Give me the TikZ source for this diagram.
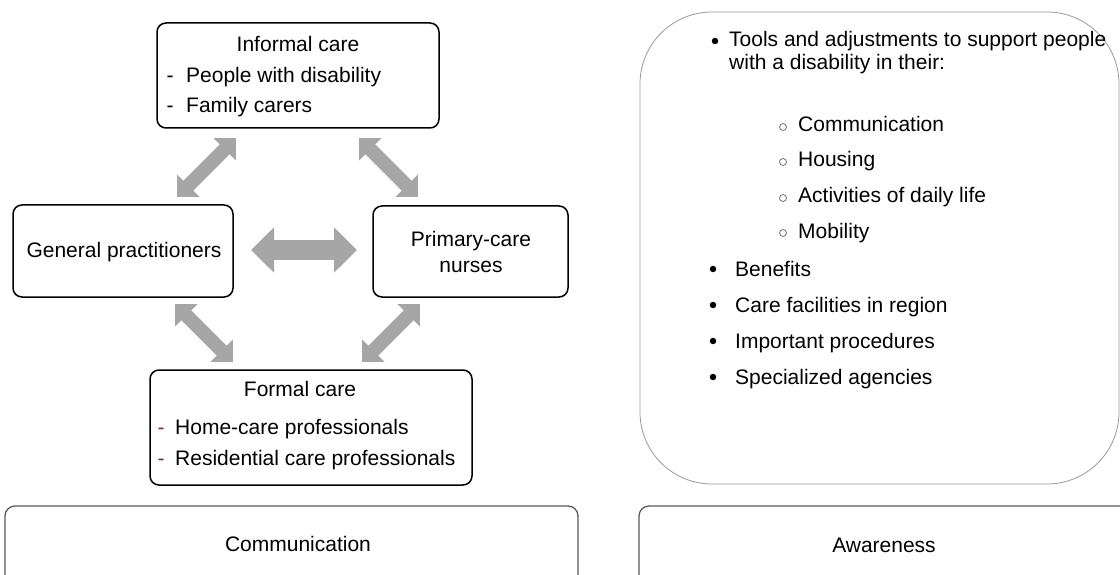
\documentclass[tikz,border=0pt]{standalone}
\usepackage{fontspec}
\setmainfont{Liberation Sans}
\usetikzlibrary{arrows.meta,calc}
\definecolor{arrgray}{HTML}{A6A6A6}
\definecolor{dashred}{HTML}{7A3030}
\begin{document}
\begin{tikzpicture}[x=1pt,y=-1pt,
  every node/.style={font=\fontsize{21}{25}\selectfont},
  carebox/.style={draw=black,line width=1.5pt,rounded corners=9pt},
  basebox/.style={draw=black!65,line width=1.3pt,rounded corners=10pt},
  bigbox/.style={draw=black!40,line width=0.8pt,rounded corners=72pt},
  txt/.style={inner sep=0pt,anchor=base west},
  ctxt/.style={inner sep=0pt,anchor=base},
  darr/.style={draw=arrgray,line width=14pt,{Triangle[width=31pt,length=16pt]}-{Triangle[width=31pt,length=16pt]}},
  harr/.style={draw=arrgray,line width=20pt,{Triangle[width=44pt,length=23pt]}-{Triangle[width=44pt,length=23pt]}},
  dot/.style={circle,fill=black,inner sep=0pt,minimum size=6.5pt},
  hdot/.style={circle,draw=black!55,line width=0.8pt,inner sep=0pt,minimum size=7pt}
]
\useasboundingbox (0,0) rectangle (1120,575);
\clip (0,0) rectangle (1120,575);

% boxes
\draw[carebox] (157,23) rectangle (439,128);
\node[inner sep=0pt] (inf) at (298,75.5) {};
\coordinate (infSW) at (157,128);
\coordinate (infSE) at (439,128);
\draw[carebox] (13,205) rectangle (233,297);
\coordinate (gpNE) at (233,205);
\coordinate (gpSE) at (233,297);
\draw[carebox] (373,206) rectangle (568,297);
\coordinate (nuNW) at (373,206);
\coordinate (nuSW) at (373,297);
\draw[carebox] (150,370) rectangle (472,485);
\coordinate (frNW) at (150,370);
\coordinate (frNE) at (472,370);

\draw[basebox] (5,506) rectangle (578,620);
\draw[basebox] (639,506) rectangle (1135,620);
\draw[bigbox] (640,12) rectangle (1119,484);

% texts in care boxes
\node[ctxt] (infT) at (298,52) {Informal care};
\node[txt] (infD1) at (166.5,83) {-};
\node[txt] (infL1) at (186,83) {People with disability};
\node[txt] (infD2) at (166.5,113) {-};
\node[txt] (infL2) at (186,113) {Family carers};

\node[ctxt] (gpT) at (124,258) {General practitioners};

\node[ctxt] (nuT1) at (471,246) {Primary-care};
\node[ctxt] (nuT2) at (471,272) {nurses};

\node[ctxt] (frT) at (300,396) {Formal care};
\node[txt] (frD1) at (157.5,434) {\textcolor{dashred}{-}};
\node[txt] (frL1) at (175,434) {Home-care professionals};
\node[txt] (frD2) at (157.5,465) {\textcolor{dashred}{-}};
\node[txt] (frL2) at (175,465) {Residential care professionals};

\node[ctxt] (comm) at (298,551) {Communication};
\node[ctxt] (awr) at (884,552) {Awareness};

% arrows between care boxes
\coordinate (a1s) at ($(infSW)+(79,10)$);
\coordinate (a1e) at ($(gpNE)+(-56,-8)$);
\coordinate (a2s) at ($(infSE)+(-80,10)$);
\coordinate (a2e) at ($(nuNW)+(45,-9)$);
\coordinate (a3s) at ($(gpSE)+(-58,7)$);
\coordinate (a3e) at ($(frNW)+(83,-8)$);
\coordinate (a4s) at ($(nuSW)+(47,7)$);
\coordinate (a4e) at ($(frNE)+(-110,-8)$);
\coordinate (hs) at (251,250);
\coordinate (he) at (357,250);
\draw[darr] (a1s) -- (a1e);
\draw[darr] (a2s) -- (a2e);
\draw[darr] (a3s) -- (a3e);
\draw[darr] (a4s) -- (a4e);
\draw[harr] (hs) -- (he);

% right list
\node[dot] (b1) at (715,41) {};
\node[txt] (r1a) at (729,47) {Tools and adjustments to support people};
\node[txt] (r1b) at (729,70) {with a disability in their:};
\node[hdot] (s1) at (783,127) {};
\node[txt] (r2) at (798,132) {Communication};
\node[hdot] (s2) at (783,162) {};
\node[txt] (r3) at (798,167) {Housing};
\node[hdot] (s3) at (783,198) {};
\node[txt] (r4) at (798,203) {Activities of daily life};
\node[hdot] (s4) at (783,233) {};
\node[txt] (r5) at (798,238) {Mobility};
\node[dot] (b2) at (713,269) {};
\node[txt] (r6) at (735,276) {Benefits};
\node[dot] (b3) at (713,305) {};
\node[txt] (r7) at (735,312) {Care facilities in region};
\node[dot] (b4) at (713,341) {};
\node[txt] (r8) at (735,348) {Important procedures};
\node[dot] (b5) at (713,377) {};
\node[txt] (r9) at (735,384) {Specialized agencies};
\end{tikzpicture}
\end{document}
